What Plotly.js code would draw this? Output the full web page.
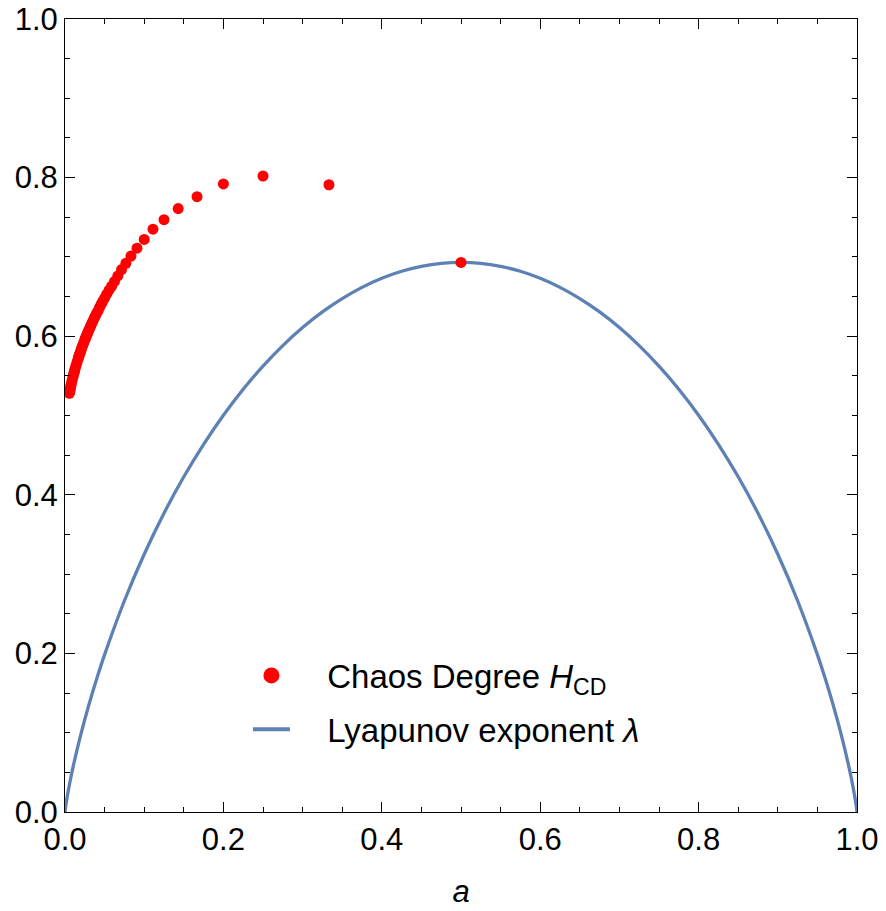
<!DOCTYPE html>
<html>
<head>
<meta charset="utf-8">
<script src="https://cdn.plot.ly/plotly-3.0.1.min.js"></script>
<style>html,body{margin:0;padding:0;background:#fff;}#chart{width:886px;height:911px;}</style>
</head>
<body>
<div id="chart"></div>
<script>
// Chaos degree H_CD sampled at a = 1/n
const chaosA = [0.5, 0.3333, 0.25, 0.2, 0.1667, 0.1429, 0.125, 0.1111, 0.1, 0.0909, 0.0833, 0.0769, 0.0714,
  0.0667, 0.0625, 0.0588, 0.0556, 0.0526, 0.05, 0.0476, 0.0455, 0.0435, 0.0417, 0.04, 0.0385, 0.037, 0.0357,
  0.0345, 0.0333, 0.0323, 0.0313, 0.0303, 0.0294, 0.0286, 0.0278, 0.027, 0.0263, 0.0256, 0.025,
  0.0238, 0.0227, 0.0217, 0.0208, 0.02, 0.0192, 0.0185, 0.0179, 0.0172, 0.0167,
  0.0154, 0.0143, 0.0133, 0.0125, 0.0118, 0.0111, 0.0105, 0.01,
  0.0091, 0.0083, 0.0077, 0.0071, 0.0067, 0.0063, 0.0059, 0.0056];
const chaosH = [0.693, 0.791, 0.802, 0.792, 0.776, 0.761, 0.747, 0.735, 0.722, 0.711, 0.701, 0.692, 0.684,
  0.676, 0.669, 0.663, 0.658, 0.653, 0.648, 0.644, 0.640, 0.636, 0.632, 0.629, 0.626, 0.623, 0.620,
  0.6175, 0.615, 0.6126, 0.6103, 0.6081, 0.6061, 0.6041, 0.6022, 0.6003, 0.5986, 0.5969, 0.5953,
  0.5922, 0.5894, 0.5867, 0.5842, 0.5818, 0.5796, 0.5775, 0.5756, 0.5737, 0.5719,
  0.5678, 0.5642, 0.5610, 0.5580, 0.5553, 0.5529, 0.5506, 0.5485,
  0.5448, 0.5415, 0.5386, 0.5360, 0.5337, 0.5316, 0.5297, 0.5280];

// Lyapunov exponent lambda(a)
const lyapA = [0, 0.001, 0.0025, 0.005, 0.01, 0.02, 0.03, 0.04, 0.05, 0.075, 0.1, 0.125, 0.15, 0.175, 0.2,
  0.225, 0.25, 0.275, 0.3, 0.325, 0.35, 0.375, 0.4, 0.425, 0.45, 0.475, 0.5,
  0.525, 0.55, 0.575, 0.6, 0.625, 0.65, 0.675, 0.7, 0.725, 0.75, 0.775, 0.8,
  0.825, 0.85, 0.875, 0.9, 0.925, 0.95, 0.96, 0.97, 0.98, 0.99, 0.995, 0.9975, 0.999, 1];
const lyapL = [0, 0.0079, 0.0175, 0.0315, 0.0560, 0.0980, 0.1347, 0.1679, 0.1985, 0.2664, 0.3251, 0.3768, 0.4227, 0.4637, 0.5004,
  0.5332, 0.5623, 0.5882, 0.6109, 0.6306, 0.6474, 0.6616, 0.6730, 0.6819, 0.6881, 0.6919, 0.6931,
  0.6919, 0.6881, 0.6819, 0.6730, 0.6616, 0.6474, 0.6306, 0.6109, 0.5882, 0.5623, 0.5332, 0.5004,
  0.4637, 0.4227, 0.3768, 0.3251, 0.2664, 0.1985, 0.1679, 0.1347, 0.0980, 0.0560, 0.0315, 0.0175, 0.0079, 0];

const xTicks = [0, 0.2, 0.4, 0.6, 0.8, 1.0];
const yTicks = [0, 0.2, 0.4, 0.6, 0.8, 1.0];
const tickText = ['0.0', '0.2', '0.4', '0.6', '0.8', '1.0'];
const legendNames = ['Chaos Degree <i>H</i><sub>CD</sub>', 'Lyapunov exponent <i>λ</i>'];

const RED = '#ff0000';
const BLUE = '#5e81b5';
const FONT = 'Liberation Sans, Arial, sans-serif';
const GAP = '\u2002\u00a0\u2009';

const traces = [
  {x: lyapA, y: lyapL, type: 'scatter', mode: 'lines', line: {color: BLUE, width: 3.3, shape: 'spline', smoothing: 0.6},
   showlegend: false, hoverinfo: 'skip'},
  {x: chaosA, y: chaosH, type: 'scatter', mode: 'markers', marker: {color: RED, size: 11},
   cliponaxis: false, showlegend: false},
  {x: [null], y: [null], type: 'scatter', mode: 'markers', marker: {color: RED, size: 16},
   name: GAP + legendNames[0], legendgroup: 'g1'},
  {x: [null], y: [null], type: 'scatter', mode: 'lines', line: {color: BLUE, width: 4},
   name: GAP + legendNames[1], legendgroup: 'g2'}
];

const axisCommon = {
  range: [0, 1], showgrid: false, zeroline: false, showline: true, linecolor: '#000', linewidth: 1,
  mirror: 'ticks', ticks: 'inside', ticklen: 10, tickwidth: 1, tickcolor: '#000',
  tickfont: {family: FONT, size: 31, color: '#000'},
  minor: {dtick: 0.05, ticks: 'inside', ticklen: 5, tickwidth: 1, tickcolor: '#000', showgrid: false}
};

const layout = {
  width: 886, height: 911,
  margin: {l: 65, r: 29, t: 19, b: 99},
  paper_bgcolor: '#fff', plot_bgcolor: '#fff',
  font: {family: FONT, color: '#000'},
  xaxis: Object.assign({}, axisCommon, {tickmode: 'array', tickvals: xTicks, ticktext: tickText,
    title: {text: '<i>a</i>', font: {family: FONT, size: 31, color: '#000'}, standoff: 24}}),
  yaxis: Object.assign({}, axisCommon, {tickmode: 'array', tickvals: yTicks, ticktext: tickText}),
  legend: {x: 0.231, y: 0.2075, xanchor: 'left', yanchor: 'top', bgcolor: 'rgba(0,0,0,0)',
    font: {family: FONT, size: 33, color: '#000'}, tracegroupgap: 8, itemwidth: 37},
  showlegend: true
};

Plotly.newPlot('chart', traces, layout, {displayModeBar: false, staticPlot: true});
</script>
</body>
</html>
